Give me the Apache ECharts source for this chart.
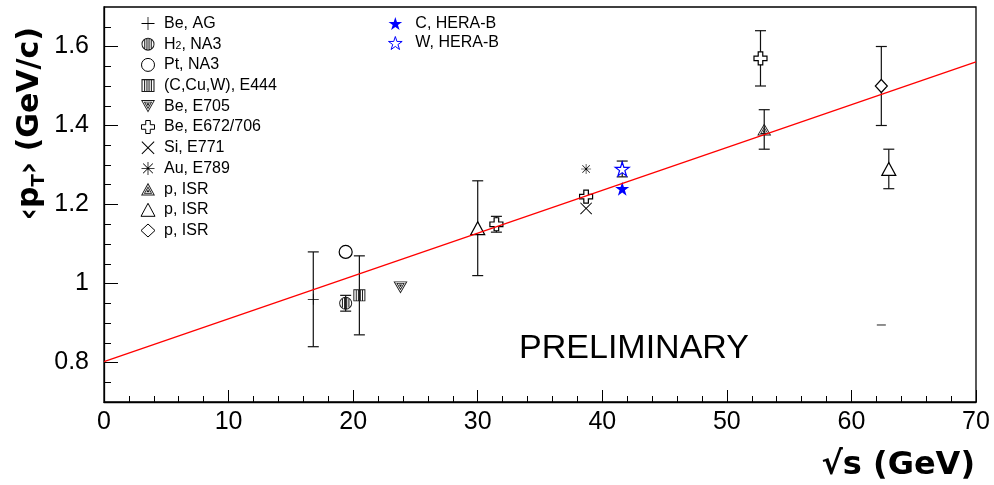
<!DOCTYPE html>
<html>
<head>
<meta charset="utf-8">
<script src="https://cdn.jsdelivr.net/npm/echarts@6/dist/echarts.min.js"></script>
<style>
  html, body { margin: 0; padding: 0; background: #fff; }
  #chart { width: 994px; height: 485px; }
</style>
</head>
<body>
<div id="chart"></div>
<script>
// Mean transverse momentum vs. centre-of-mass energy.
// Each point: [sqrt(s) in GeV, <pT> in GeV/c, error]
const beAG    = [[16.8, 0.96, 0.12]];
const h2NA3   = [[19.4, 0.95, 0.02]];
const ptNA3   = [[19.4, 1.08, 0]];
const e444    = [[20.5, 0.97, 0.10]];
const e705    = [[23.8, 0.99, 0]];
const e672    = [[31.5, 1.15, 0.02], [38.7, 1.22, 0], [52.7, 1.57, 0.07]];
const e771    = [[38.7, 1.19, 0]];
const e789    = [[38.7, 1.29, 0]];
const isrA    = [[53.0, 1.39, 0.05]];
const isrB    = [[30.0, 1.14, 0.12], [63.0, 1.29, 0.05]];
const isrC    = [[62.4, 1.50, 0.10]];
const heraC   = [[41.6, 1.24, 0]];
const heraW   = [[41.6, 1.29, 0.02]];
const loneDash = [[62.4, 0.895]];

// straight-line fit through all measurements
const fitLine = [[0, 0.802], [70, 1.561]];

// axis ticks
const yLabelTicks = [0.8, 1.0, 1.2, 1.4, 1.6];
const yMinorTicks = [0.75, 0.85, 0.9, 0.95, 1.05, 1.1, 1.15, 1.25, 1.3, 1.35, 1.45, 1.5, 1.55, 1.65];

// marker shapes
const SYM = {
  plus: 'path://M9.4,0H10.6V20H9.4Z M0,9.4H20V10.6H0Z',
  hatchCircle: 'path://M0,10A10,10,0,1,0,20,10A10,10,0,1,0,0,10Z M1.5,10A8.5,8.5,0,1,1,18.5,10A8.5,8.5,0,1,1,1.5,10Z ' +
               'M4.2,3.3V16.7H5.8V3.3Z M7.6,1.6V18.4H9.2V1.6Z M10.8,1.6V18.4H12.4V1.6Z M14.2,3.3V16.7H15.8V3.3Z',
  hatchSquare: 'path://M0,0V20H20V0Z M1.6,1.6H18.4V18.4H1.6Z ' +
               'M4,1.6V18.4H5.6V1.6Z M7.6,1.6V18.4H9.2V1.6Z M10.8,1.6V18.4H12.4V1.6Z M14.4,1.6V18.4H16V1.6Z',
  hatchDown: 'path://M0,0L20,0L10,18Z M2.2,1.29L10,15.33L17.8,1.29Z M4,2.35L16,2.35L10,13.15Z M6,3.53L10,10.73L14,3.53Z M7.6,4.47L12.4,4.47L10,8.79Z',
  hatchUp: 'path://M0,18L20,18L10,0Z M2.2,16.71L10,2.67L17.8,16.71Z M4,15.65L16,15.65L10,4.85Z M6,14.47L10,7.27L14,14.47Z M7.6,13.53L12.4,13.53L10,9.21Z',
  openCross: 'path://M6.5,0H13.5V6.5H20V13.5H13.5V20H6.5V13.5H0V6.5H6.5Z',
  xMark: 'path://M0,1.1L1.1,0L10,8.9L18.9,0L20,1.1L11.1,10L20,18.9L18.9,20L10,11.1L1.1,20L0,18.9L8.9,10Z',
  asterisk: 'path://M9.4,0H10.6V20H9.4Z M0,9.4H20V10.6H0Z M2.1,2.9L2.9,2.1L17.9,17.1L17.1,17.9Z M17.1,2.1L17.9,2.9L2.9,17.9L2.1,17.1Z',
  star: 'path://M10,0L12.25,6.91L19.51,6.91L13.63,11.18L15.88,18.09L10,13.82L4.12,18.09L6.37,11.18L0.49,6.91L7.75,6.91Z'
};

const BLACK = '#000';
const HATCH = '#1a1a1a';
const BLUE = '#0000ff';
const WHITE = '#fff';

const pointSets = [
  { name: 'Be, AG',          data: beAG,  symbol: SYM.plus,        size: 11,       fill: BLACK, stroke: null },
  { name: 'H2, NA3',         data: h2NA3, symbol: SYM.hatchCircle, size: 13,       fill: HATCH, stroke: null },
  { name: 'Pt, NA3',         data: ptNA3, symbol: 'circle',        size: 13,       fill: WHITE, stroke: BLACK },
  { name: '(C,Cu,W), E444',  data: e444,  symbol: SYM.hatchSquare, size: 12,       fill: HATCH, stroke: null },
  { name: 'Be, E705',        data: e705,  symbol: SYM.hatchDown,   size: [14, 12], fill: HATCH, stroke: null },
  { name: 'Be, E672/706',    data: e672,  symbol: SYM.openCross,   size: 13,       fill: WHITE, stroke: BLACK },
  { name: 'Si, E771',        data: e771,  symbol: SYM.xMark,       size: 12,       fill: BLACK, stroke: null },
  { name: 'Au, E789',        data: e789,  symbol: SYM.asterisk,    size: 10,       fill: BLACK, stroke: null },
  { name: 'p, ISR ',         data: isrA,  symbol: SYM.hatchUp,     size: [14, 12], fill: HATCH, stroke: null },
  { name: 'p, ISR  ',        data: isrB,  symbol: 'triangle',      size: [14, 13], fill: WHITE, stroke: BLACK },
  { name: 'p, ISR   ',       data: isrC,  symbol: 'diamond',       size: [12, 13], fill: WHITE, stroke: BLACK },
  { name: 'C, HERA-B',       data: heraC, symbol: SYM.star,        size: 14,       fill: BLUE,  stroke: null },
  { name: 'W, HERA-B',       data: heraW, symbol: SYM.star,        size: 14,       fill: WHITE, stroke: BLUE }
];

const leftLegendNames = pointSets.slice(0, 11).map(p => p.name);
const rightLegendNames = pointSets.slice(11).map(p => p.name);

const FONT = '"Liberation Sans", Arial, Helvetica, sans-serif';
const TITLE_FONT = '"DejaVu Sans", sans-serif';

const scatterSeries = pointSets.map(p => ({
  type: 'scatter',
  name: p.name,
  data: p.data.map(d => [d[0], d[1]]),
  symbol: p.symbol,
  symbolSize: p.size,
  itemStyle: {
    color: p.fill,
    borderColor: p.stroke || p.fill,
    borderWidth: p.stroke ? 1.2 : 0,
    opacity: 1
  },
  emphasis: { disabled: true },
  z: 3
}));

// vertical error bars with end caps
const errorData = [];
pointSets.forEach(p => p.data.forEach(d => { if (d[2] > 0) errorData.push([d[0], d[1], d[2]]); }));

const errorSeries = {
  type: 'custom',
  name: 'errors',
  data: errorData,
  dimensions: ['x', 'y', 'err'],
  encode: { x: 0, y: 1 },
  z: 2,
  silent: true,
  renderItem: function (params, api) {
    const x = api.value(0), y = api.value(1), e = api.value(2);
    const top = api.coord([x, y + e]);
    const bot = api.coord([x, y - e]);
    const cx = top[0];
    const w = 5.5;
    const st = { stroke: '#111', lineWidth: 1.2 };
    return {
      type: 'group',
      children: [
        { type: 'line', shape: { x1: cx, y1: top[1], x2: cx, y2: bot[1] }, style: st },
        { type: 'line', shape: { x1: cx - w, y1: top[1], x2: cx + w, y2: top[1] }, style: st },
        { type: 'line', shape: { x1: cx - w, y1: bot[1], x2: cx + w, y2: bot[1] }, style: st }
      ]
    };
  }
};

const dashSeries = {
  type: 'scatter',
  name: 'dash',
  data: loneDash,
  symbol: 'rect',
  symbolSize: [9, 1.5],
  itemStyle: { color: '#444' },
  silent: true,
  z: 3
};

const fitSeries = {
  type: 'line',
  name: 'fit',
  data: fitLine,
  showSymbol: false,
  lineStyle: { color: '#ff0000', width: 1.3 },
  silent: true,
  z: 5
};

function legendItems(names) {
  return names.map(n => {
    const p = pointSets.find(q => q.name === n);
    return {
      name: n,
      icon: p.symbol,
      itemStyle: {
        color: p.fill,
        borderColor: p.stroke || p.fill,
        borderWidth: p.stroke ? 1 : 0
      }
    };
  });
}

const legendText = {
  padding: [0, 0, 0, 4],
  rich: {
    t: { fontSize: 16, fontFamily: FONT, color: '#000', lineHeight: 15 },
    s: { fontSize: 10.5, fontFamily: FONT, color: '#000', lineHeight: 6, verticalAlign: 'bottom' }
  }
};
const legendFormatter = name => name === 'H2, NA3' ? '{t|H}{s|2}{t|, NA3}' : '{t|' + name.trim() + '}';

const chart = echarts.init(document.getElementById('chart'), null, { renderer: 'canvas' });

chart.setOption({
  animation: false,
  backgroundColor: '#fff',
  grid: {
    left: 104, right: 18, top: 7, bottom: 83,
    show: true, borderColor: '#000', borderWidth: 1.3, backgroundColor: 'transparent'
  },
  legend: [
    {
      orient: 'vertical', left: 140.5, top: 15.5, padding: 0,
      itemWidth: 14, itemHeight: 13, itemGap: 4.7,
      selectedMode: false,
      data: legendItems(leftLegendNames),
      formatter: legendFormatter,
      textStyle: legendText
    },
    {
      orient: 'vertical', left: 388, top: 15.5, padding: 0,
      itemWidth: 14, itemHeight: 13, itemGap: 3.5,
      selectedMode: false,
      data: legendItems(rightLegendNames),
      formatter: legendFormatter,
      textStyle: Object.assign({}, legendText, { padding: [0, 0, 0, 8] })
    }
  ],
  xAxis: {
    type: 'value', min: 0, max: 70, interval: 10,
    axisLine: { show: true, onZero: false, lineStyle: { color: '#000', width: 1.3 } },
    axisTick: { show: true, inside: true, length: 12, lineStyle: { color: '#000', width: 1 } },
    minorTick: { show: true, splitNumber: 5, length: 6, lineStyle: { color: '#000', width: 1 } },
    splitLine: { show: false },
    axisLabel: { fontSize: 25, fontFamily: FONT, color: '#000', margin: 8 }
  },
  yAxis: [
    {
      type: 'value', min: 0.7, max: 1.7,
      axisLine: { show: true, onZero: false, lineStyle: { color: '#000', width: 1.3 } },
      axisTick: { show: true, inside: true, length: 14, customValues: yLabelTicks, lineStyle: { color: '#000', width: 1 } },
      splitLine: { show: false },
      axisLabel: {
        customValues: yLabelTicks, fontSize: 25, fontFamily: FONT, color: '#000', margin: 15,
        formatter: v => (Math.abs(v - 1) < 1e-9 ? '1' : String(Math.round(v * 10) / 10))
      }
    },
    {
      type: 'value', min: 0.7, max: 1.7, position: 'left',
      axisLine: { show: false },
      axisTick: { show: true, inside: true, length: 7, customValues: yMinorTicks, lineStyle: { color: '#000', width: 1 } },
      axisLabel: { show: false },
      splitLine: { show: false }
    }
  ],
  graphic: [
    {
      type: 'text', x: 975, y: 466,
      style: {
        text: '\u221As (GeV)', fontSize: 32, fontWeight: 'bold', fontFamily: TITLE_FONT,
        fill: '#000', align: 'right', verticalAlign: 'middle'
      }
    },
    {
      type: 'text', x: 30, y: 27, rotation: Math.PI / 2,
      style: {
        text: '{a|\u2039p}{s|T}{a|\u203A (GeV/c)}',
        align: 'right', verticalAlign: 'middle',
        rich: {
          a: { fontSize: 30, fontWeight: 'bold', fontFamily: TITLE_FONT, fill: '#000', lineHeight: 36 },
          s: { fontSize: 18, fontWeight: 'bold', fontFamily: TITLE_FONT, fill: '#000', lineHeight: 18, verticalAlign: 'bottom' }
        }
      }
    },
    {
      type: 'text', x: 634, y: 349,
      style: {
        text: 'PRELIMINARY', fontSize: 34, fontFamily: FONT,
        fill: '#000', align: 'center', verticalAlign: 'middle'
      }
    }
  ],
  series: [errorSeries].concat(scatterSeries, [dashSeries, fitSeries])
});
</script>
</body>
</html>
